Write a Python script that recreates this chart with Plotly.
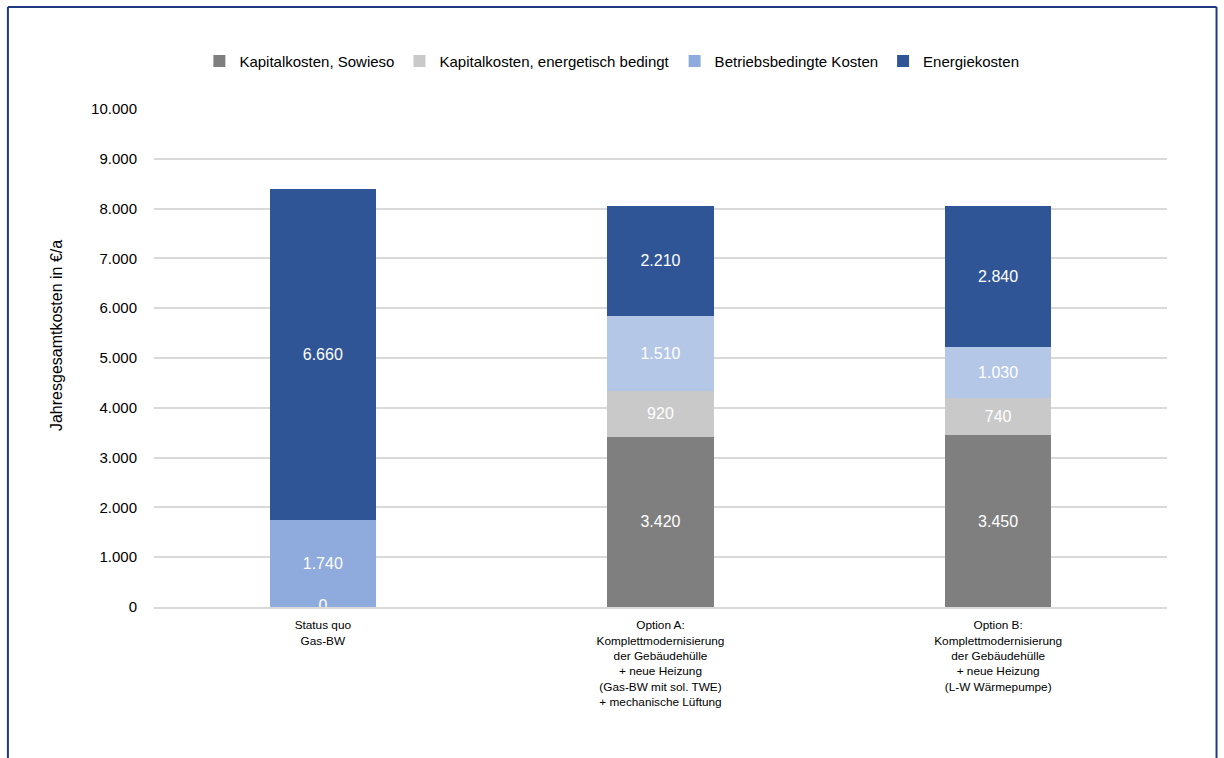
import plotly.graph_objects as go

# Scenarios (x categories)
categories = [
    "Status quo<br>Gas-BW",
    "Option A:<br>Komplettmodernisierung<br>der Gebäudehülle<br>+ neue Heizung<br>(Gas-BW mit sol. TWE)<br>+ mechanische Lüftung",
    "Option B:<br>Komplettmodernisierung<br>der Gebäudehülle<br>+ neue Heizung<br>(L-W Wärmepumpe)",
]

# Annual cost components in €/a
kapital_sowieso = [0, 3420, 3450]
kapital_energetisch = [None, 920, 740]
betriebsbedingt = [1740, 1510, 1030]
energie = [6660, 2210, 2840]

series_names = [
    "Kapitalkosten, Sowieso",
    "Kapitalkosten, energetisch bedingt",
    "Betriebsbedingte Kosten",
    "Energiekosten",
]

y_ticks = [0, 1000, 2000, 3000, 4000, 5000, 6000, 7000, 8000, 9000, 10000]

FONT = "Liberation Sans, Arial, sans-serif"


def de_num(v):
    return f"{v:,}".replace(",", ".")


def labels(values):
    return [de_num(v) if v else "" for v in values]


series = [
    (series_names[0], kapital_sowieso, ["#7F7F7F"] * 3),
    (series_names[1], kapital_energetisch, ["#C9C9C9"] * 3),
    (series_names[2], betriebsbedingt, ["#8FAADC", "#B4C7E7", "#B4C7E7"]),
    (series_names[3], energie, ["#2F5597"] * 3),
]

fig = go.Figure()
for name, vals, colors in series:
    fig.add_trace(go.Bar(
        name=name,
        x=categories,
        y=vals,
        marker=dict(color=colors, line=dict(width=0)),
        text=labels(vals),
        textposition="inside",
        insidetextanchor="middle",
        textfont=dict(color="white", size=16, family=FONT),
        width=0.315,
        hoverinfo="skip",
    ))

# Zero-valued segments still carry their value label at the baseline
zero_x = [c for c, v in zip(categories, kapital_sowieso) if v == 0]
zero_y = [v for v in kapital_sowieso if v == 0]
fig.add_trace(go.Scatter(
    x=zero_x,
    y=zero_y,
    mode="text",
    text=[de_num(v) for v in zero_y],
    textposition="middle center",
    textfont=dict(color="white", size=16, family=FONT),
    showlegend=False,
    cliponaxis=True,
    hoverinfo="skip",
))

# Outer frame of the figure
frame = dict(type="line", xref="paper", yref="paper",
             line=dict(color="#1F3A80", width=2))
left, right, top, bottom = -0.1442, 1.0489, 1.2048, -0.35
fig.add_shape(x0=left, x1=left, y0=bottom, y1=top, **frame)
fig.add_shape(x0=left, x1=right, y0=top, y1=top, **frame)
fig.add_shape(x0=right, x1=right, y0=bottom, y1=top, **frame)

fig.add_annotation(
    text="Jahresgesamtkosten in €/a",
    xref="paper", yref="paper",
    x=-0.0968, y=0.546,
    xanchor="center", yanchor="middle",
    textangle=-90,
    showarrow=False,
    font=dict(size=16, family=FONT, color="#000000"),
)

fig.update_layout(
    barmode="stack",
    width=1224,
    height=758,
    margin=dict(l=154, r=57, t=109, b=151),
    paper_bgcolor="white",
    plot_bgcolor="white",
    separators=",.",
    font=dict(family=FONT, size=15, color="#000000"),
    legend=dict(
        orientation="h",
        x=0.452, xanchor="center",
        y=1.096, yanchor="middle",
        font=dict(size=15, family=FONT, color="#000000"),
        itemwidth=30,
        traceorder="normal",
    ),
    xaxis=dict(
        showgrid=False,
        showline=True,
        linecolor="#D9D9D9",
        linewidth=2,
        tickfont=dict(size=11.8, family=FONT, color="#000000"),
        ticks="",
        ticklabelstandoff=6,
    ),
    yaxis=dict(
        range=[0, 10000],
        tickvals=y_ticks,
        ticktext=[de_num(v) for v in y_ticks],
        showgrid=True,
        gridcolor="#D9D9D9",
        gridwidth=2,
        zeroline=False,
        showline=False,
        ticks="",
        ticklabelstandoff=16,
        tickfont=dict(size=15, family=FONT, color="#000000"),
    ),
    showlegend=True,
)

fig.write_html("out.html")
